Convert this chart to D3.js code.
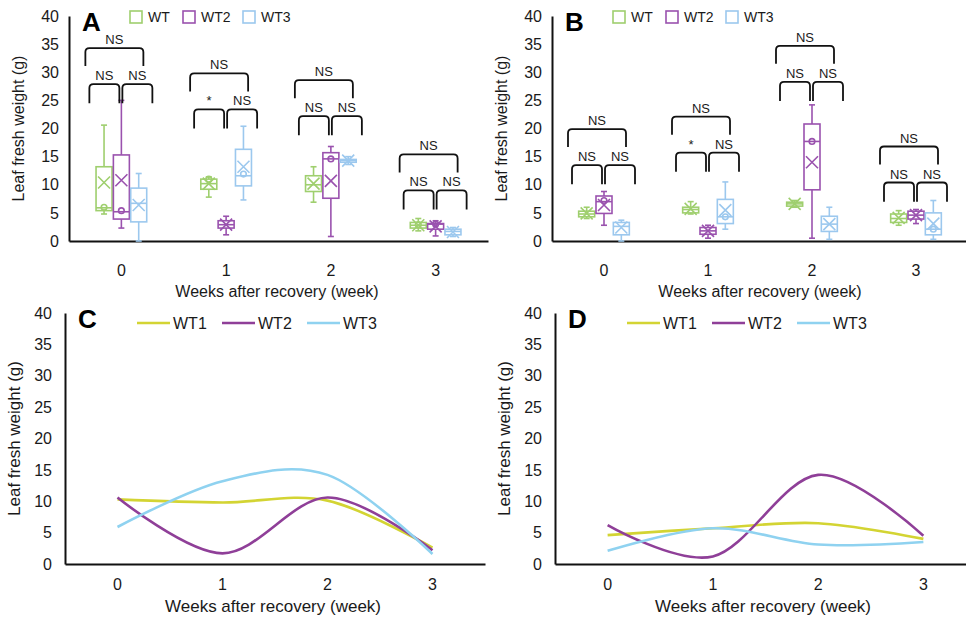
<!DOCTYPE html>
<html>
<head>
<meta charset="utf-8">
<script src="https://cdn.jsdelivr.net/npm/d3@7"></script>
<style>
body { margin: 0; background: #fff; }
svg { font-family: "Liberation Sans", Arial, sans-serif; }
</style>
</head>
<body>
<svg id="chart" width="966" height="619"></svg>
<script>
// categories and series
var weeks = ["0", "1", "2", "3"];
var boxSeries = ["WT", "WT2", "WT3"];
var lineSeries = ["WT1", "WT2", "WT3"];
var yTicks = [0, 5, 10, 15, 20, 25, 30, 35, 40];

// panel A box stats per week: [min, q1, median, q3, max]
var boxA_WT  = [[4.8, 5.4, 5.9, 13.2, 20.6], [7.8, 9.2, 10.2, 11.0, 11.4], [6.9, 8.8, 10.0, 11.6, 13.2], [1.8, 2.3, 2.8, 3.3, 4.0]];
var boxA_WT2 = [[2.3, 3.9, 5.2, 15.3, 25.0], [1.1, 2.3, 2.9, 3.6, 4.4], [0.8, 7.6, 14.6, 15.7, 16.8], [0.9, 2.1, 3.0, 3.1, 3.6]];
var boxA_WT3 = [[0.0, 3.4, 6.7, 9.4, 12.0], [7.3, 9.8, 11.6, 16.3, 20.4], [13.6, 14.0, 14.3, 14.5, 15.0], [0.8, 1.1, 1.7, 2.1, 2.4]];
var meanA_WT  = [10.4, 10.2, 10.2, 2.8];
var meanA_WT2 = [10.8, 2.9, 10.7, 2.6];
var meanA_WT3 = [6.4, 13.2, 14.3, 1.6];
var pointA_WT  = [6.0, 11.0, null, 2.9];
var pointA_WT2 = [5.4, null, 14.6, 3.0];
var pointA_WT3 = [null, 11.9, null, null];

// panel B box stats
var boxB_WT  = [[4.0, 4.3, 4.8, 5.3, 6.0], [4.8, 5.0, 5.6, 6.0, 7.0], [6.0, 6.2, 6.6, 6.9, 7.2], [2.8, 3.3, 4.0, 4.8, 5.4]];
var boxB_WT2 = [[2.8, 4.9, 7.0, 8.0, 8.8], [0.5, 1.2, 1.8, 2.4, 2.8], [0.5, 9.1, 17.7, 20.8, 24.2], [3.1, 3.9, 4.6, 5.3, 5.6]];
var boxB_WT3 = [[0.0, 1.1, 2.6, 3.3, 3.7], [2.1, 3.1, 4.3, 7.4, 10.5], [0.3, 1.7, 3.0, 4.4, 6.0], [0.3, 1.1, 2.1, 5.0, 7.2]];
var meanB_WT  = [4.9, 5.7, 6.6, 4.1];
var meanB_WT2 = [6.4, 1.8, 14.0, 4.6];
var meanB_WT3 = [2.4, 5.5, 3.0, 3.1];
var pointB_WT  = [null, null, null, null];
var pointB_WT2 = [7.2, null, 17.7, null];
var pointB_WT3 = [null, 4.3, null, 2.1];

// significance brackets: base value (leg bottom) and labels [left, right, top]
var bracketA = [24.5, 20.0, 18.8, 5.6];
var bracketB = [10.1, 12.3, 24.9, 7.0];
var sigA = [["NS", "NS", "NS"], ["*", "NS", "NS"], ["NS", "NS", "NS"], ["NS", "NS", "NS"]];
var sigB = [["NS", "NS", "NS"], ["*", "NS", "NS"], ["NS", "NS", "NS"], ["NS", "NS", "NS"]];

// line panels (means)
var lineC_WT1 = [10.3, 9.8, 10.1, 2.6];
var lineC_WT2 = [10.6, 1.7, 10.6, 2.2];
var lineC_WT3 = [5.9, 13.2, 14.2, 1.6];
var lineD_WT1 = [4.6, 5.7, 6.5, 4.0];
var lineD_WT2 = [6.2, 1.2, 14.2, 4.5];
var lineD_WT3 = [2.1, 5.7, 3.1, 3.5];

var boxColors = ["#9fcf6e", "#9a52ae", "#9cc8ee"];
var lineColors = ["#d3d433", "#8f3f98", "#8fd2f0"];

var svg = d3.select("#chart");

// axes, titles and panel letter
function drawAxes(g, x, y, letter, labelX, tickGap, titleY, titleSize) {
    var yAx = g.append("g")
        .attr("transform", "translate(" + x.range()[0] + ",0)")
        .call(d3.axisLeft(y).tickValues(yTicks).tickSize(0).tickPadding(tickGap));
    var xAx = g.append("g")
        .attr("transform", "translate(0," + y(0) + ")")
        .call(d3.axisBottom(x).tickSize(0).tickPadding(labelX));
    [yAx, xAx].forEach(function (a) {
        a.select(".domain").attr("stroke", "#111").attr("stroke-width", 2);
        a.selectAll("text").attr("font-size", 16).attr("fill", "#1a1a1a")
            .attr("font-family", "Liberation Sans, Arial, sans-serif");
    });
    var x0 = x.range()[0];
    g.append("text")
        .attr("transform", "translate(" + (x0 - 45) + "," + ((y(0) + y(40)) / 2) + ") rotate(-90)")
        .attr("text-anchor", "middle")
        .attr("font-size", titleSize)
        .attr("fill", "#1a1a1a")
        .text("Leaf fresh weight (g)");
    g.append("text")
        .attr("x", x0 + 208)
        .attr("y", titleY)
        .attr("text-anchor", "middle")
        .attr("font-size", titleSize)
        .attr("fill", "#1a1a1a")
        .text("Weeks after recovery (week)");
    g.append("text")
        .attr("x", x0 + 13)
        .attr("y", y(40) + 15)
        .attr("font-size", 26)
        .attr("font-weight", "bold")
        .text(letter);
}

function bracketPath(x1, x2, yb, yt) {
    var r = 4;
    return "M" + x1 + "," + yb + "L" + x1 + "," + (yt + r) + "Q" + x1 + "," + yt + " " + (x1 + r) + "," + yt +
        "L" + (x2 - r) + "," + yt + "Q" + x2 + "," + yt + " " + x2 + "," + (yt + r) + "L" + x2 + "," + yb;
}

function boxPanel(x0, x1, letter, boxes, means, points, brackets, sigs) {
    var g = svg.append("g");
    var x = d3.scaleBand().domain(weeks).range([x0, x1]);
    var y = d3.scaleLinear().domain([0, 40]).range([241, 16]);
    var sub = d3.scaleBand().domain(boxSeries).range([-26, 26]);
    var bw = 16;

    drawAxes(g, x, y, letter, 24, 10, 297, 16);

    boxSeries.forEach(function (s, si) {
        var col = boxColors[si];
        var sg = g.append("g").attr("stroke", col).attr("fill", "none").attr("stroke-width", 1.6);
        weeks.forEach(function (w, wi) {
            var b = boxes[si][wi];
            var cx = x(w) + x.bandwidth() / 2 + sub(s) + sub.bandwidth() / 2;
            // whiskers
            sg.append("line").attr("x1", cx).attr("x2", cx).attr("y1", y(b[4])).attr("y2", y(b[3]));
            sg.append("line").attr("x1", cx).attr("x2", cx).attr("y1", y(b[1])).attr("y2", y(b[0]));
            sg.append("line").attr("x1", cx - 3).attr("x2", cx + 3).attr("y1", y(b[4])).attr("y2", y(b[4]));
            sg.append("line").attr("x1", cx - 3).attr("x2", cx + 3).attr("y1", y(b[0])).attr("y2", y(b[0]));
            // box
            sg.append("rect").attr("x", cx - bw / 2).attr("width", bw)
                .attr("y", y(b[3])).attr("height", Math.max(1, y(b[1]) - y(b[3])))
                .attr("fill", "#fff");
            sg.append("line").attr("x1", cx - bw / 2).attr("x2", cx + bw / 2)
                .attr("y1", y(b[2])).attr("y2", y(b[2]));
            // mean marker
            var m = y(means[si][wi]);
            sg.append("path").attr("d", "M" + (cx - 6) + "," + (m - 6) + "L" + (cx + 6) + "," + (m + 6) +
                "M" + (cx - 6) + "," + (m + 6) + "L" + (cx + 6) + "," + (m - 6));
            if (points[si][wi] != null) {
                sg.append("circle").attr("cx", cx).attr("cy", y(points[si][wi])).attr("r", 2.8);
            }
        });
    });

    // significance brackets
    var bg = g.append("g");
    weeks.forEach(function (w, wi) {
        var c = x(w) + x.bandwidth() / 2;
        var base = brackets[wi];
        var parts = [
            [c - 32, c - 2, y(base), y(base + 3.4), sigs[wi][0]],
            [c + 1, c + 31, y(base), y(base + 3.4), sigs[wi][1]],
            [c - 36, c + 22, y(base + 6.6), y(base + 9.8), sigs[wi][2]]
        ];
        parts.forEach(function (p) {
            bg.append("path").attr("d", bracketPath(p[0], p[1], p[2], p[3]))
                .attr("fill", "none").attr("stroke", "#111").attr("stroke-width", 1.8);
            bg.append("text").attr("x", (p[0] + p[1]) / 2).attr("y", p[3] - 4)
                .attr("text-anchor", "middle").attr("font-size", 13).attr("fill", "#1a1a1a")
                .text(p[4]);
        });
    });

    // legend
    var lx = [x0 + 61, x0 + 114, x0 + 174];
    boxSeries.forEach(function (s, si) {
        g.append("rect").attr("x", lx[si]).attr("y", 11).attr("width", 12).attr("height", 12)
            .attr("fill", "#fff").attr("stroke", boxColors[si]).attr("stroke-width", 1.6);
        g.append("text").attr("x", lx[si] + 18).attr("y", 22).attr("font-size", 14)
            .attr("fill", "#1a1a1a").text(s);
    });
}

function linePanel(x0, x1, letter, lines) {
    var g = svg.append("g");
    var x = d3.scaleBand().domain(weeks).range([x0, x1]);
    var y = d3.scaleLinear().domain([0, 40]).range([564, 313]);
    drawAxes(g, x, y, letter, 15, 13, 612, 17);

    var line = d3.line()
        .x(function (d, i) { return x(weeks[i]) + x.bandwidth() / 2; })
        .y(function (d) { return y(d); })
        .curve(d3.curveCardinal);
    lines.forEach(function (vals, si) {
        g.append("path").attr("d", line(vals)).attr("fill", "none")
            .attr("stroke", lineColors[si]).attr("stroke-width", 2.6);
    });

    lineSeries.forEach(function (s, si) {
        var lx = x0 + 72 + si * 85;
        g.append("line").attr("x1", lx).attr("x2", lx + 33).attr("y1", 323).attr("y2", 323)
            .attr("stroke", lineColors[si]).attr("stroke-width", 2.6);
        g.append("text").attr("x", lx + 36).attr("y", 329).attr("font-size", 16)
            .attr("fill", "#1a1a1a").text(s);
    });
}

boxPanel(69, 488, "A", [boxA_WT, boxA_WT2, boxA_WT3], [meanA_WT, meanA_WT2, meanA_WT3],
    [pointA_WT, pointA_WT2, pointA_WT3], bracketA, sigA);
boxPanel(552, 968, "B", [boxB_WT, boxB_WT2, boxB_WT3], [meanB_WT, meanB_WT2, meanB_WT3],
    [pointB_WT, pointB_WT2, pointB_WT3], bracketB, sigB);
linePanel(65, 485, "C", [lineC_WT1, lineC_WT2, lineC_WT3]);
linePanel(555, 976, "D", [lineD_WT1, lineD_WT2, lineD_WT3]);
</script>
</body>
</html>
